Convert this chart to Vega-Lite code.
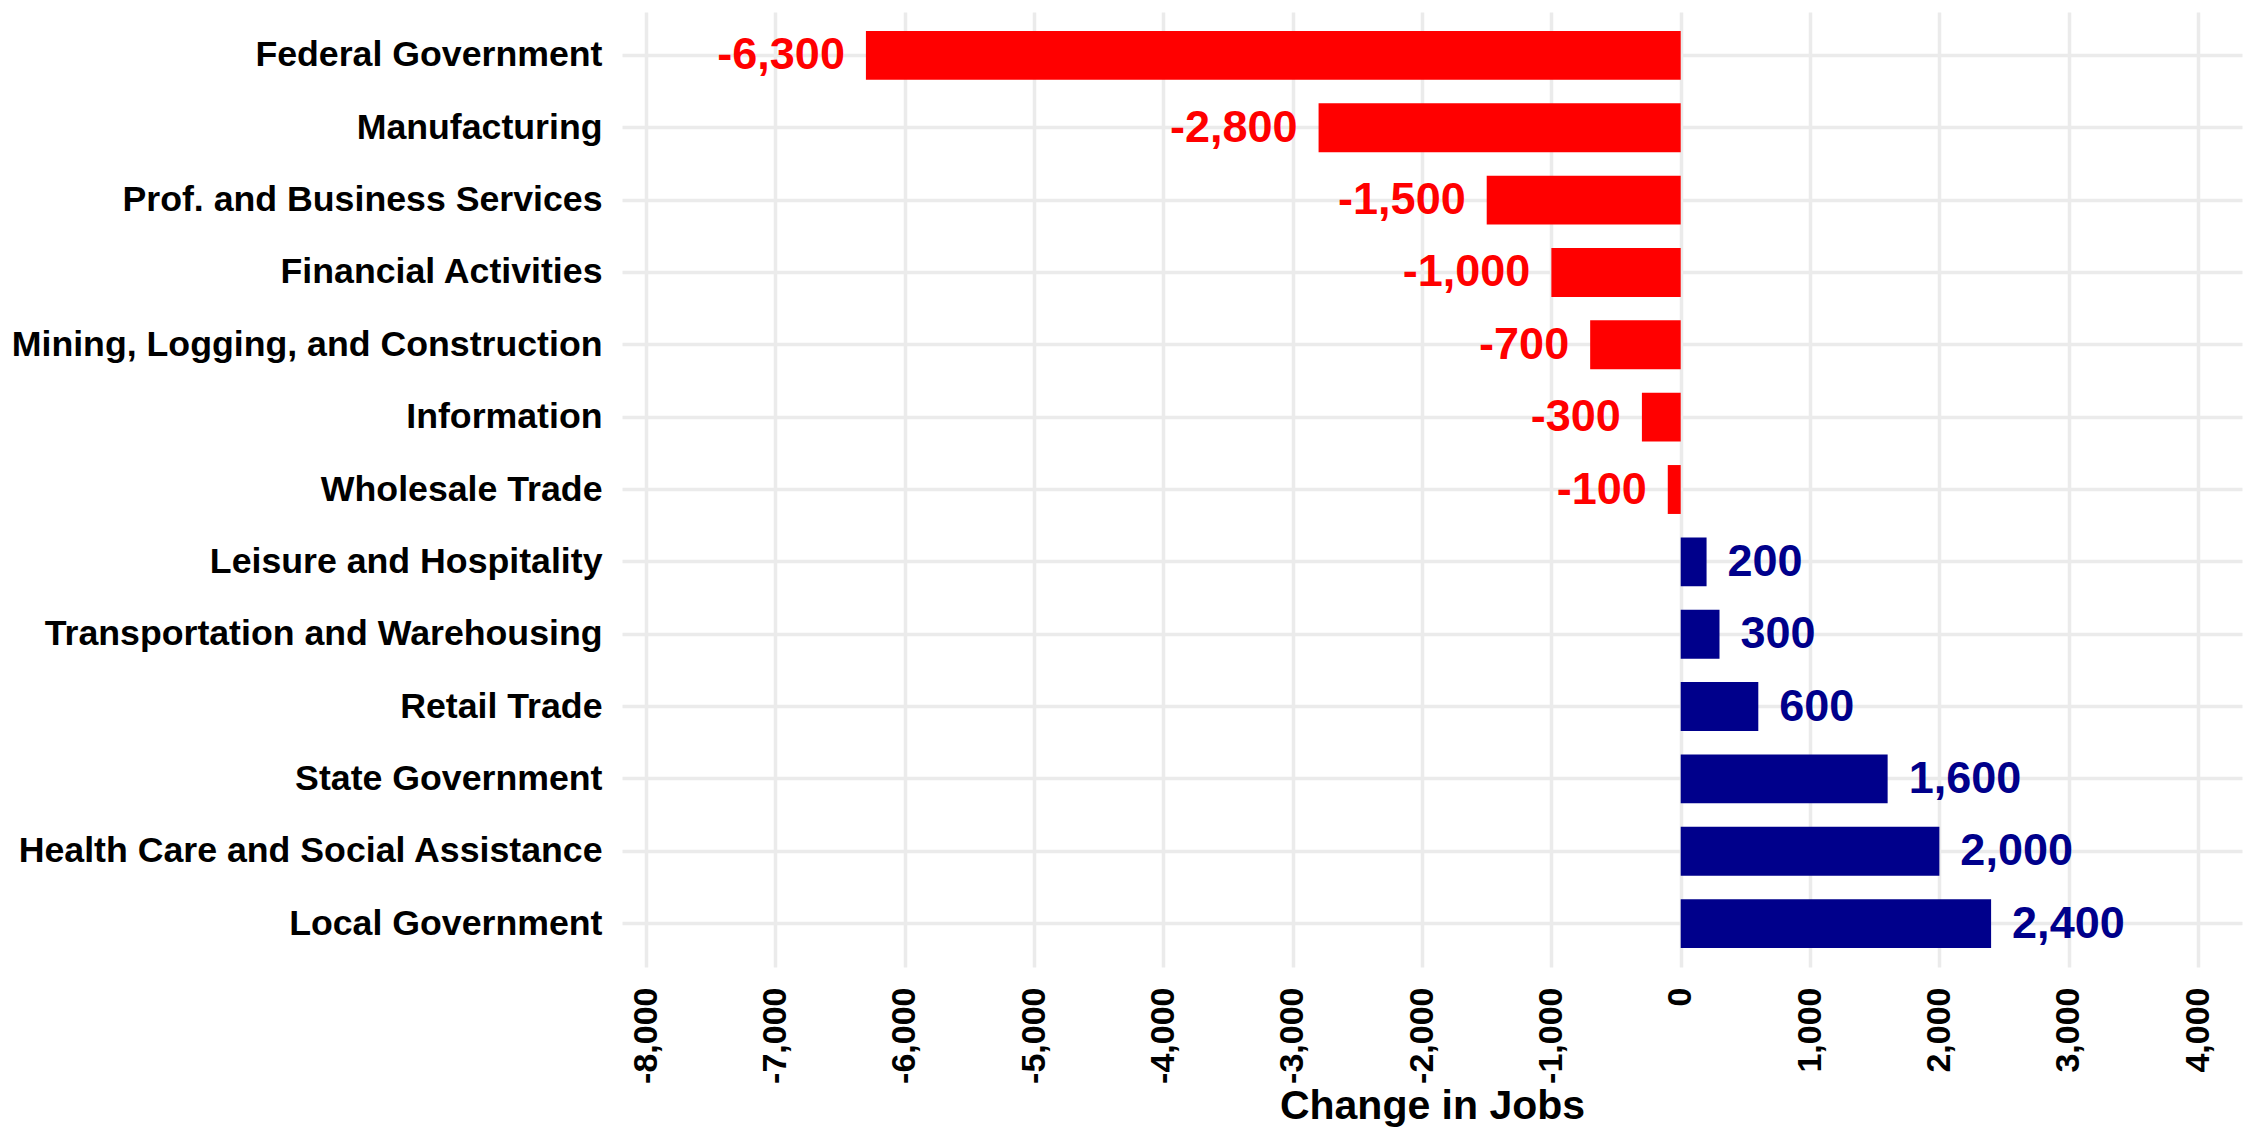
{
  "$schema": "https://vega.github.io/schema/vega-lite/v6.json",
  "autosize": "none",
  "width": 1620,
  "height": 955,
  "padding": {"left": 622, "top": 12, "right": 4, "bottom": 163},
  "background": "white",
  "config": {
    "view": {"stroke": null},
    "font": "Liberation Sans",
    "locale": {"number": {"decimal": ".", "thousands": ",", "grouping": [3], "currency": ["$", ""], "minus": "-"}},
    "axis": {
      "domain": false,
      "ticks": false,
      "gridColor": "#EBEBEB",
      "gridWidth": 3.5,
      "labelFont": "Liberation Sans",
      "labelFontWeight": "bold",
      "labelColor": "#000000",
      "labelFontSize": 35.7,
      "titleFont": "Liberation Sans",
      "titleFontWeight": "bold",
      "titleColor": "#000000",
      "titleFontSize": 41
    }
  },
  "data": {
    "values": [
      {"sector": "Federal Government", "change": -6300},
      {"sector": "Manufacturing", "change": -2800},
      {"sector": "Prof. and Business Services", "change": -1500},
      {"sector": "Financial Activities", "change": -1000},
      {"sector": "Mining, Logging, and Construction", "change": -700},
      {"sector": "Information", "change": -300},
      {"sector": "Wholesale Trade", "change": -100},
      {"sector": "Leisure and Hospitality", "change": 200},
      {"sector": "Transportation and Warehousing", "change": 300},
      {"sector": "Retail Trade", "change": 600},
      {"sector": "State Government", "change": 1600},
      {"sector": "Health Care and Social Assistance", "change": 2000},
      {"sector": "Local Government", "change": 2400}
    ]
  },
  "encoding": {
    "y": {
      "field": "sector",
      "type": "nominal",
      "sort": ["Federal Government", "Manufacturing", "Prof. and Business Services", "Financial Activities", "Mining, Logging, and Construction", "Information", "Wholesale Trade", "Leisure and Hospitality", "Transportation and Warehousing", "Retail Trade", "State Government", "Health Care and Social Assistance", "Local Government"],
      "scale": {"paddingInner": 0.324, "paddingOuter": 0.262},
      "axis": {"title": null, "grid": true, "labelPadding": 20, "bandPosition": 0.5, "labelLimit": 1000}
    }
  },
  "layer": [
    {
      "mark": {"type": "bar"},
      "encoding": {
        "x": {
          "field": "change",
          "type": "quantitative",
          "scale": {"domain": [-8186, 4340], "nice": false, "zero": false},
          "axis": {
            "title": "Change in Jobs",
            "values": [-8000, -7000, -6000, -5000, -4000, -3000, -2000, -1000, 0, 1000, 2000, 3000, 4000],
            "format": ",d",
            "labelAngle": -90,
            "labelFontSize": 34,
            "labelPadding": 20,
            "labelFlush": false,
            "labelOverlap": false,
            "titlePadding": 3,
            "grid": true
          }
        },
        "color": {"condition": {"test": "datum.change < 0", "value": "#FF0000"}, "value": "#00008B"}
      }
    },
    {
      "transform": [{"filter": "datum.change < 0"}],
      "mark": {"type": "text", "align": "right", "baseline": "middle", "dx": -21, "fontSize": 45, "fontWeight": "bold", "font": "Liberation Sans", "color": "#FF0000"},
      "encoding": {
        "x": {"field": "change", "type": "quantitative"},
        "text": {"field": "change", "type": "quantitative", "format": ",d"}
      }
    },
    {
      "transform": [{"filter": "datum.change >= 0"}],
      "mark": {"type": "text", "align": "left", "baseline": "middle", "dx": 21, "fontSize": 45, "fontWeight": "bold", "font": "Liberation Sans", "color": "#00008B"},
      "encoding": {
        "x": {"field": "change", "type": "quantitative"},
        "text": {"field": "change", "type": "quantitative", "format": ",d"}
      }
    }
  ]
}
